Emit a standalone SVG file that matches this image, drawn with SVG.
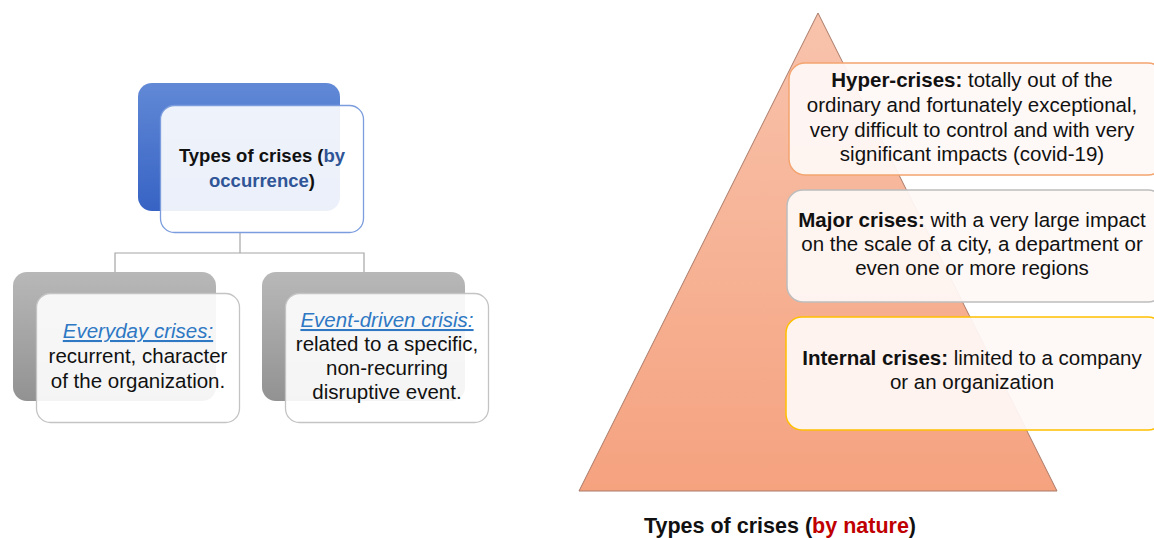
<svg xmlns="http://www.w3.org/2000/svg" width="1154" height="538" viewBox="0 0 1154 538">
<defs>
<linearGradient id="gBlue" x1="0" y1="0" x2="0" y2="1">
<stop offset="0" stop-color="#6189d6"/>
<stop offset="1" stop-color="#3763c4"/>
</linearGradient>
<linearGradient id="gGray" x1="0" y1="0" x2="0" y2="1">
<stop offset="0" stop-color="#b8b8b8"/>
<stop offset="1" stop-color="#929292"/>
</linearGradient>
<linearGradient id="gTri" x1="0" y1="0" x2="0" y2="1">
<stop offset="0" stop-color="#f8c3ac"/>
<stop offset="1" stop-color="#f5a27f"/>
</linearGradient>
<style>
text{font-family:"Liberation Sans",Arial,sans-serif;fill:#111;text-anchor:middle}
.t{font-size:20.5px}
.h{font-size:18.5px;font-weight:bold}
.b{font-weight:bold}
.lnk{fill:#2e78c4;font-style:italic;text-decoration:underline}
.front{fill:#fff;fill-opacity:0.9;stroke-width:1.3}
.pbox{fill:#fef8f5;fill-opacity:0.94;stroke-width:1.5}
.conn{fill:none;stroke:#a6a6a6;stroke-width:1.2}
</style>
</defs>
<rect width="1154" height="538" fill="#fff"/>

<g id="connectors">
<path class="conn" d="M240 233 V253 M115 272 V253 H364 V272"/>
</g>

<g id="node-occurrence">
<rect x="138" y="83" width="202" height="128" rx="14" fill="url(#gBlue)"/>
<rect class="front" x="160.5" y="105.5" width="203" height="127" rx="14" stroke="#7b9ddd"/>
<text class="h" x="262" y="162">Types of crises (<tspan fill="#2f5597">by</tspan></text>
<text class="h" x="262" y="187"><tspan fill="#2f5597">occurrence</tspan>)</text>
</g>

<g id="node-everyday">
<rect x="13" y="272" width="203" height="129" rx="14" fill="url(#gGray)"/>
<rect class="front" x="36.5" y="293.5" width="203" height="129" rx="14" stroke="#c4c4c4"/>
<text class="t lnk" x="138" y="338">Everyday crises:</text>
<text class="t" x="138" y="363">recurrent, character</text>
<text class="t" x="138" y="388">of the organization.</text>
</g>

<g id="node-event">
<rect x="262" y="272" width="203" height="129" rx="14" fill="url(#gGray)"/>
<rect class="front" x="285.5" y="293.5" width="203" height="129" rx="14" stroke="#c4c4c4"/>
<text class="t lnk" x="387" y="327">Event-driven crisis:</text>
<text class="t" x="387" y="351">related to a specific,</text>
<text class="t" x="387" y="375">non-recurring</text>
<text class="t" x="387" y="399">disruptive event.</text>
</g>

<g id="pyramid">
<polygon points="818,13 1057,491 579,491" fill="url(#gTri)" stroke="#a97a68" stroke-width="1"/>
</g>

<g id="node-hyper">
<rect class="pbox" x="789" y="63" width="375" height="112" rx="16" stroke="#f3a46f"/>
<text class="t" x="972" y="87"><tspan class="b">Hyper-crises:</tspan> totally out of the</text>
<text class="t" x="972" y="112">ordinary and fortunately exceptional,</text>
<text class="t" x="972" y="137">very difficult to control and with very</text>
<text class="t" x="972" y="161">significant impacts (covid-19)</text>
</g>

<g id="node-major">
<rect class="pbox" x="787" y="190" width="377" height="112" rx="16" stroke="#bdbdbd"/>
<text class="t" x="972" y="227"><tspan class="b">Major crises:</tspan> with a very large impact</text>
<text class="t" x="972" y="251">on the scale of a city, a department or</text>
<text class="t" x="972" y="275">even one or more regions</text>
</g>

<g id="node-internal">
<rect class="pbox" x="786" y="317" width="378" height="113" rx="16" stroke="#ffc000"/>
<text class="t" x="972" y="365"><tspan class="b">Internal crises:</tspan> limited to a company</text>
<text class="t" x="972" y="389">or an organization</text>
</g>

<g id="title-nature">
<text x="780" y="533" style="font-size:21.5px;font-weight:bold">Types of crises (<tspan fill="#c00000">by nature</tspan>)</text>
</g>
</svg>
